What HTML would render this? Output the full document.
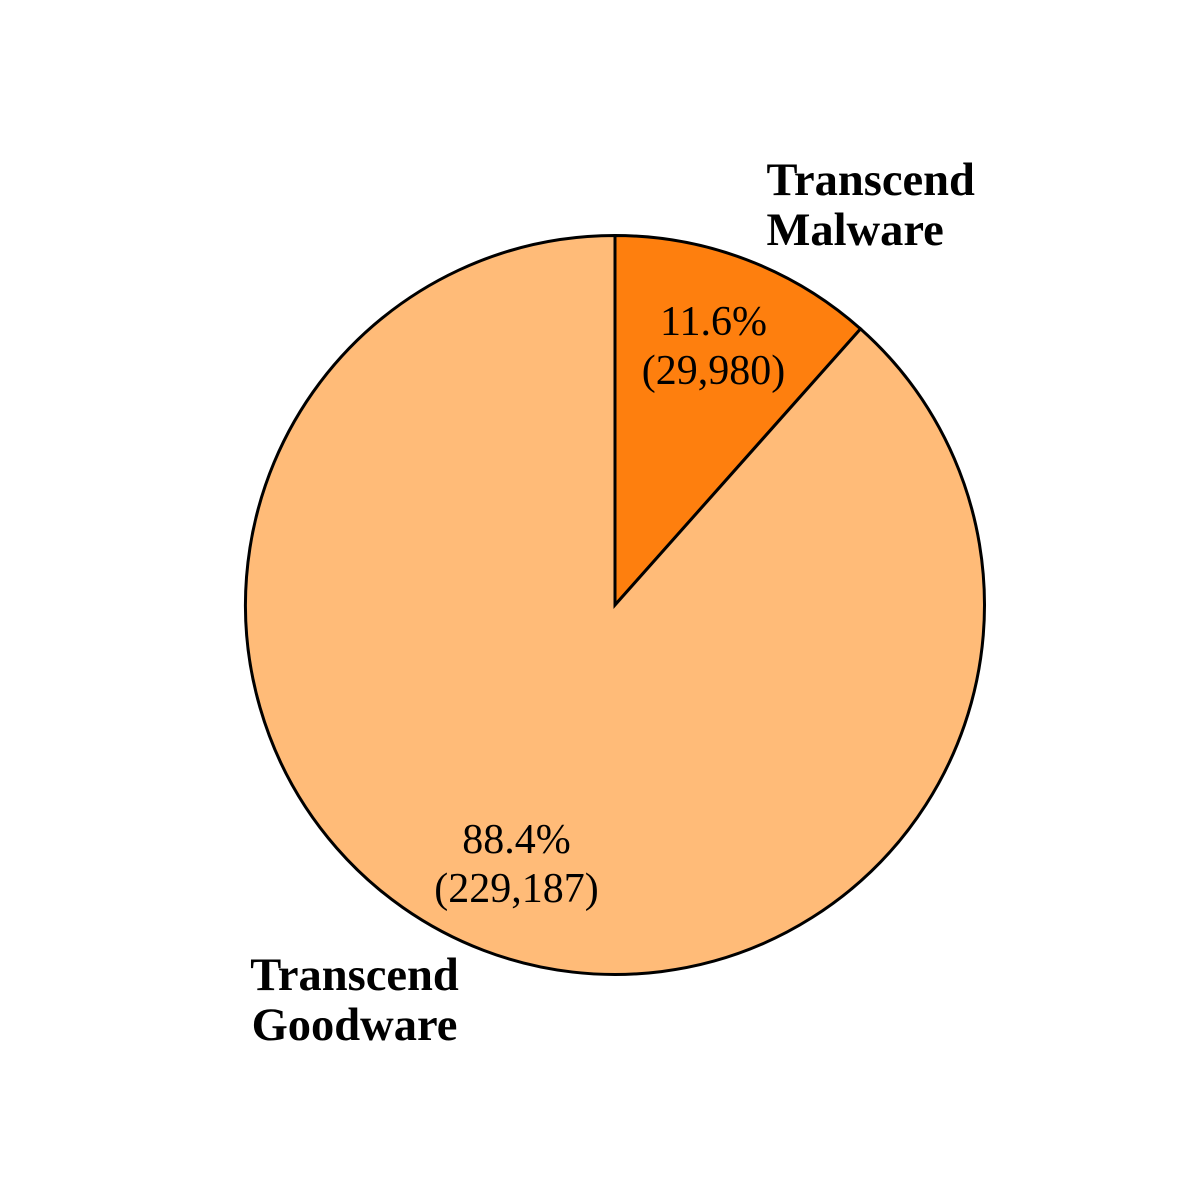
<!DOCTYPE html>
<html><head><meta charset="utf-8"><style>
html,body{margin:0;padding:0;background:#fff;}
svg{display:block;}
</style></head><body>
<svg id="chart" width="1200" height="1200" viewBox="0 0 1200 1200" xmlns="http://www.w3.org/2000/svg"></svg>
<script>
const categories = ["Transcend Malware", "Transcend Goodware"];
const values = [29980, 229187];
const colors = ["#fe7f0e", "#ffbb78"];
const labelLines = [["Transcend", "Malware"], ["Transcend", "Goodware"]];

const NS = "http://www.w3.org/2000/svg";
const svg = document.getElementById("chart");
const cx = 615, cy = 605, r = 369.5;
const total = values.reduce((a, b) => a + b, 0);
function pt(angle, d) { return [cx + d * Math.sin(angle), cy - d * Math.cos(angle)]; }

let start = 0;
const slices = [];
values.forEach((v, i) => {
  const frac = v / total;
  const end = start + frac * 2 * Math.PI;
  const [x1, y1] = pt(start, r), [x2, y2] = pt(end, r);
  const large = (end - start) > Math.PI ? 1 : 0;
  const p = document.createElementNS(NS, "path");
  p.setAttribute("d", `M${cx},${cy} L${x1},${y1} A${r},${r} 0 ${large} 1 ${x2},${y2} Z`);
  p.setAttribute("fill", colors[i]);
  p.setAttribute("stroke", "#000");
  p.setAttribute("stroke-width", "3");
  p.setAttribute("stroke-linejoin", "miter");
  
  
  svg.appendChild(p);
  slices.push({ start, end, frac });
  start = end;
});

slices.forEach((s, i) => {
  const mid = (s.start + s.end) / 2;
  const [px, py] = pt(mid, r * 0.75);
  const t = document.createElementNS(NS, "text");
  t.setAttribute("text-anchor", "middle");
  t.setAttribute("font-family", "'Liberation Serif', serif");
  t.setAttribute("font-size", "42");
  t.setAttribute("fill", "#000");
  
  
  const l1 = document.createElementNS(NS, "tspan");
  l1.setAttribute("x", px); l1.setAttribute("y", py - 11);
  l1.textContent = (s.frac * 100).toFixed(1) + "%";
  const l2 = document.createElementNS(NS, "tspan");
  l2.setAttribute("x", px); l2.setAttribute("y", py + 38);
  l2.textContent = "(" + values[i].toLocaleString("en-US") + ")";
  t.appendChild(l1); t.appendChild(l2);
  svg.appendChild(t);

  const [lx, ly] = pt(mid, r * 1.1);
  const right = Math.sin(mid) >= 0;
  const g = document.createElementNS(NS, "text");
  g.setAttribute("font-family", "'Liberation Serif', serif");
  g.setAttribute("font-weight", "bold");
  g.setAttribute("font-size", "46.5");
  g.setAttribute("fill", "#000");
  g.setAttribute("text-anchor", right ? "start" : "middle");
  
  
  const ax = right ? lx + 7 : lx - 116;
  const ay = right ? ly - 30 : ly + 5;
  labelLines[i].forEach((line, k) => {
    const ts = document.createElementNS(NS, "tspan");
    ts.setAttribute("x", ax);
    ts.setAttribute("y", ay + k * 50);
    ts.textContent = line;
    g.appendChild(ts);
  });
  svg.appendChild(g);
});
</script>
</body></html>
